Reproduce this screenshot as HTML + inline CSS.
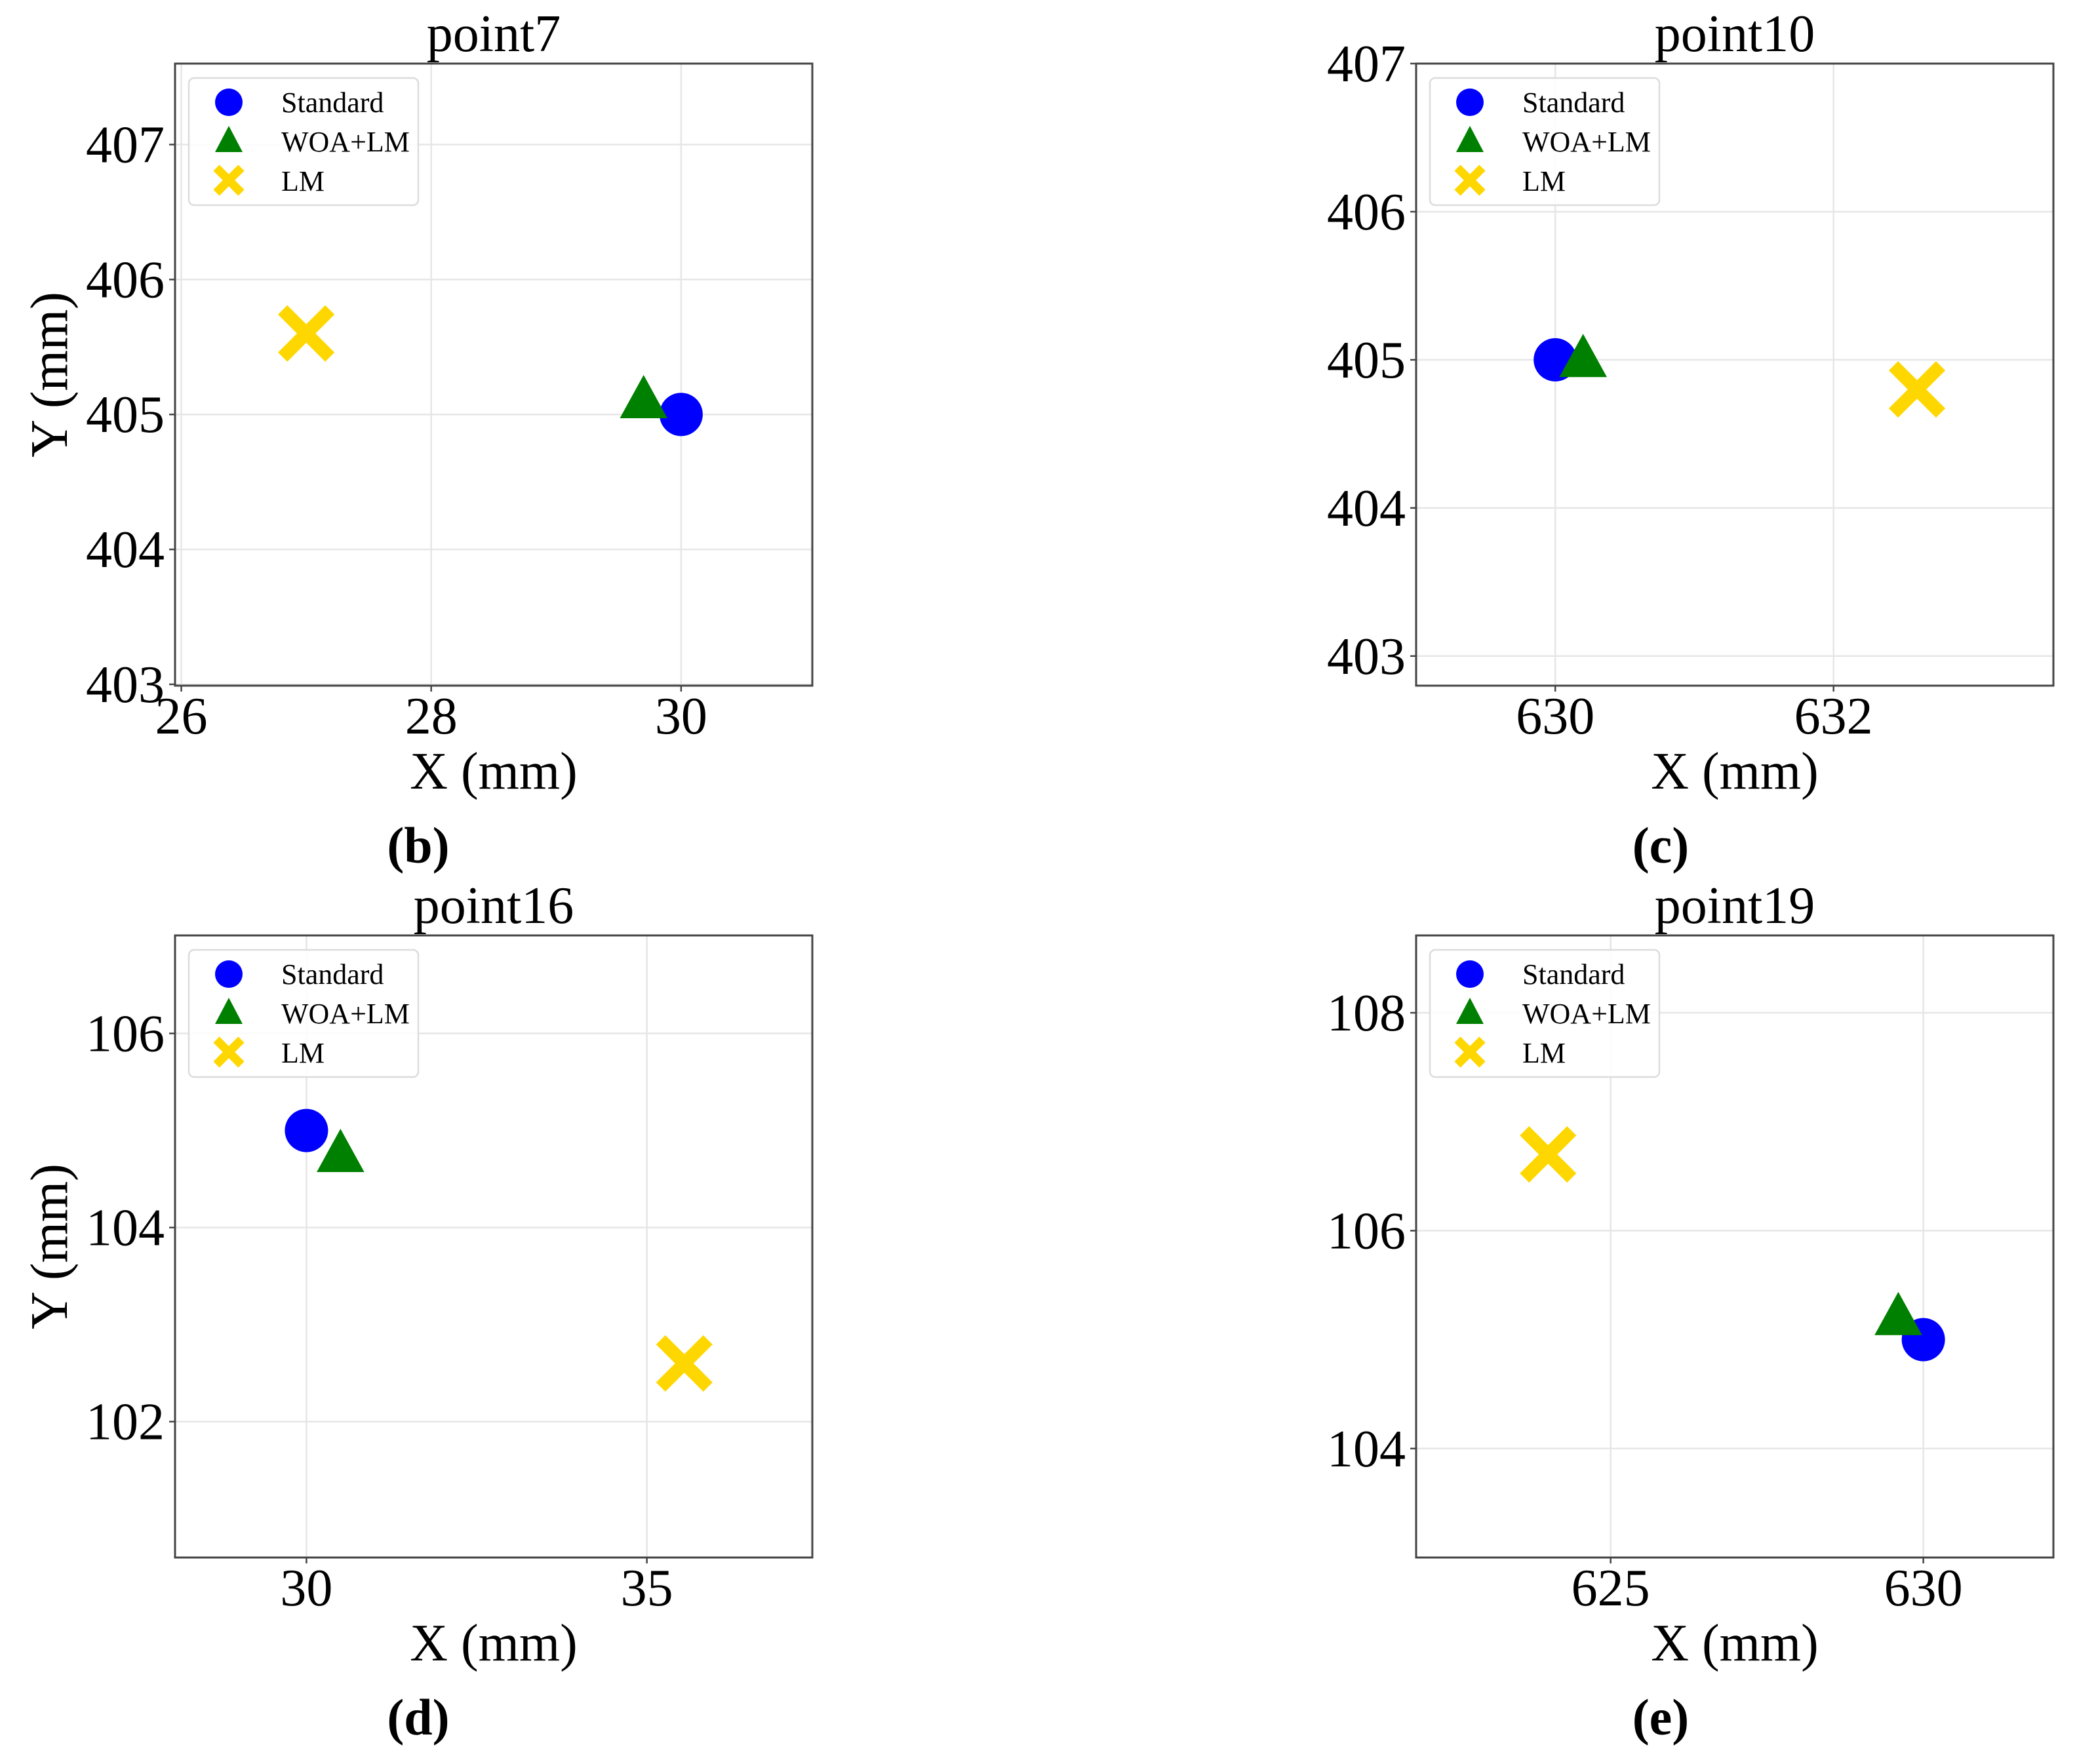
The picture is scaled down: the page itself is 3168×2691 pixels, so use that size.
<!DOCTYPE html>
<html><head><meta charset="utf-8">
<style>
html,body{margin:0;padding:0;background:#fff;}
svg{display:block;}
text{font-family:"Liberation Serif","Times New Roman",serif;fill:#000;}
</style></head>
<body>
<svg id="fig" width="3168" height="2691" viewBox="0 0 3168 2691" xmlns="http://www.w3.org/2000/svg"></svg>
<script>
// Panel data
const panelTitles = ["point7", "point10", "point16", "point19"];
const panelCaptions = ["(b)", "(c)", "(d)", "(e)"];
const seriesNames = ["Standard", "WOA+LM", "LM"];
const stdX = [30, 630, 30, 630];
const stdY = [405, 405, 105, 105];
const woaX = [29.7, 630.2, 30.5, 629.6];
const woaY = [405.1, 405.0, 104.75, 105.2];
const lmX = [27.0, 632.6, 35.55, 624.0];
const lmY = [405.6, 404.8, 102.6, 106.7];
const xTicks = [[26, 28, 30], [630, 632], [30, 35], [625, 630]];
const yTicks = [[403, 404, 405, 406, 407], [403, 404, 405, 406, 407], [102, 104, 106], [104, 106, 108]];
const xDomains = [[25.95, 31.05], [629.0, 633.58], [28.07, 37.43], [621.89, 632.08]];
const yDomains = [[402.99, 407.6], [402.8, 407.0], [100.6, 107.01], [103.0, 108.71]];

const NS = "http://www.w3.org/2000/svg";
const fig = document.getElementById("fig");
function mk(tag, attrs, parent) {
  const e = document.createElementNS(NS, tag);
  for (const k in attrs) e.setAttribute(k, attrs[k]);
  (parent || fig).appendChild(e);
  return e;
}
const boxes = [
  {l: 267, t: 97, r: 1239, b: 1046},
  {l: 2160, t: 97, r: 3132, b: 1046},
  {l: 267, t: 1427, r: 1239, b: 2376},
  {l: 2160, t: 1427, r: 3132, b: 2376}
];
const yOff = [0, 0, 1330, 1330];

function circle(g, x, y, r) {
  return mk("circle", {cx: x, cy: y, r: r, fill: "#0000ff"}, g);
}
function tri(g, x, y, s) {
  const h = s * 1.0;
  return mk("polygon", {points: `${x},${y - h * 0.6} ${x + s * 0.55},${y + h * 0.4} ${x - s * 0.55},${y + h * 0.4}`, fill: "#008000"}, g);
}
function cross(g, x, y, s, w) {
  return mk("path", {d: `M${x - s},${y - s}L${x + s},${y + s}M${x - s},${y + s}L${x + s},${y - s}`, stroke: "#ffd700", "stroke-width": w, fill: "none"}, g);
}

for (let i = 0; i < 4; i++) {
  const B = boxes[i];
  const g = mk("g", {});
  
  
  const xd = xDomains[i], yd = yDomains[i];
  const sx = v => B.l + (v - xd[0]) / (xd[1] - xd[0]) * (B.r - B.l);
  const sy = v => B.b - (v - yd[0]) / (yd[1] - yd[0]) * (B.b - B.t);
  const cx = (B.l + B.r) / 2, cy = (B.t + B.b) / 2;

  xTicks[i].forEach(v => {
    const l = mk("line", {x1: sx(v), x2: sx(v), y1: B.t, y2: B.b, stroke: "#e6e6e6", "stroke-width": 2.5}, g);
    
    
  });
  yTicks[i].forEach(v => {
    const l = mk("line", {x1: B.l, x2: B.r, y1: sy(v), y2: sy(v), stroke: "#e6e6e6", "stroke-width": 2.5}, g);
    
    
  });
  const fr = mk("rect", {x: B.l, y: B.t, width: B.r - B.l, height: B.b - B.t, fill: "none", stroke: "#444", "stroke-width": 3}, g);
  
  
  xTicks[i].forEach(v => {
    mk("line", {x1: sx(v), x2: sx(v), y1: B.b, y2: B.b + 9, stroke: "#444", "stroke-width": 2.5}, g);
    const t = mk("text", {x: sx(v), y: B.b + 73, "text-anchor": "middle", "font-size": 80}, g);
    t.textContent = v;
    
    
  });
  yTicks[i].forEach(v => {
    mk("line", {x1: B.l - 9, x2: B.l, y1: sy(v), y2: sy(v), stroke: "#444", "stroke-width": 2.5}, g);
    const t = mk("text", {x: B.l - 16, y: sy(v) + 27, "text-anchor": "end", "font-size": 80}, g);
    t.textContent = v;
    
    
  });
  const xt = mk("text", {x: cx, y: B.b + 157, "text-anchor": "middle", "font-size": 80}, g);
  xt.textContent = "X (mm)";
  
  
  const yt = mk("text", {x: 0, y: 0, "text-anchor": "middle", "font-size": 80, transform: `translate(102,${cy}) rotate(-90)`}, g);
  yt.textContent = "Y (mm)";
  
  
  const tt = mk("text", {x: cx, y: B.t - 19, "text-anchor": "middle", "font-size": 80}, g);
  tt.textContent = panelTitles[i];
  
  
  const cap = mk("text", {x: (i % 2 === 0) ? 638 : 2533, y: 1316 + yOff[i], "text-anchor": "middle", "font-size": 78, "font-weight": "bold"}, g);
  cap.textContent = panelCaptions[i];
  
  

  const mx = cross(g, sx(lmX[i]), sy(lmY[i]), 36, 20);
  
  
  const mc = circle(g, sx(stdX[i]), sy(stdY[i]), 33);
  
  
  const mt = tri(g, sx(woaX[i]), sy(woaY[i]), 66);
  
  

  const lg = mk("g", {}, g);
  
  
  const lx = B.l + 21, ly = B.t + 22;
  mk("rect", {x: lx, y: ly, width: 350, height: 194, rx: 8, fill: "#fff", "fill-opacity": 0.85, stroke: "#dcdcdc", "stroke-width": 2.5}, lg);
  const rows = [ly + 37, ly + 97, ly + 157];
  const e1 = mk("circle", {cx: lx + 61, cy: rows[0], r: 21, fill: "#0000ff"}, lg);
  
  
  const e2 = mk("polygon", {points: `${lx + 61},${rows[1] - 24} ${lx + 82},${rows[1] + 16} ${lx + 40},${rows[1] + 16}`, fill: "#008000"}, lg);
  
  
  const e3 = mk("path", {d: `M${lx + 42},${rows[2] - 20}L${lx + 80},${rows[2] + 18}M${lx + 42},${rows[2] + 18}L${lx + 80},${rows[2] - 20}`, stroke: "#ffd700", "stroke-width": 13, fill: "none"}, lg);
  
  
  seriesNames.forEach((n, k) => {
    const t = mk("text", {x: lx + 141, y: rows[k] + 15, "font-size": 44}, lg);
    t.textContent = n;
    
    
  });
}
</script>
</body></html>
